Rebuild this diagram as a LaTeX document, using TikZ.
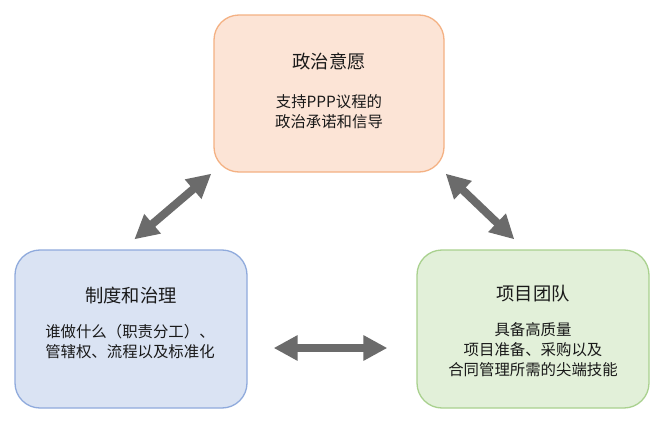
\documentclass[tikz,border=0pt]{standalone}
\usepackage{fontspec}
\setmainfont{Noto Sans CJK SC}
\usetikzlibrary{arrows.meta,calc}
\definecolor{topfill}{HTML}{FCE4D6}
\definecolor{topdraw}{HTML}{F4B183}
\definecolor{leftfill}{HTML}{DAE3F3}
\definecolor{leftdraw}{HTML}{8FAADC}
\definecolor{rightfill}{HTML}{E2F0D9}
\definecolor{rightdraw}{HTML}{A9D18E}
\definecolor{arrgray}{HTML}{6B6B6B}
\begin{document}
\begin{tikzpicture}[x=1pt,y=-1pt,
  boxstyle/.style={draw, line width=1.3pt, rounded corners=25pt, minimum width=230pt, minimum height=157pt, inner sep=0pt},
  titlestyle/.style={font=\fontsize{18.3}{20}\selectfont, inner sep=0pt, text=black!90},
  bodystyle/.style={font=\fontsize{15.4}{20}\selectfont, align=center, inner sep=0pt, text=black!90},
  arr/.style={draw=arrgray, line width=8pt, {Triangle[length=24pt,width=24pt]}-{Triangle[length=24pt,width=24pt]}}
]
\useasboundingbox[fill=white] (0,0) rectangle (665,423);
\node[boxstyle, fill=topfill, draw=topdraw] (top) at (329,93.5) {};
\node[boxstyle, fill=leftfill, draw=leftdraw, minimum width=232pt, minimum height=158pt] (left) at (131,329) {};
\node[boxstyle, fill=rightfill, draw=rightdraw, minimum width=232pt, minimum height=158pt] (right) at (533,329) {};

\node[titlestyle] (toptitle) at (329,62) {政治意愿};
\node[bodystyle] (topbody) at (329,112) {支持PPP议程的\\政治承诺和信导};
\node[titlestyle] (lefttitle) at (131,296) {制度和治理};
\node[bodystyle] (leftbody) at (130,342) {谁做什么（职责分工）、\\管辖权、流程以及标准化};
\node[titlestyle] (righttitle) at (533,294) {项目团队};
\node[bodystyle] (rightbody) at (533,350) {具备高质量\\项目准备、采购以及\\合同管理所需的尖端技能};

\draw[arr] ($(left.north west)+(120,-10)$) -- ($(top.south west)+(-2,1)$);
\draw[arr] ($(top.south east)+(1,1)$) -- ($(right.north west)+(98,-10)$);
\draw[arr] ($(left.east)+(26,19)$) -- ($(right.west)+(-29,19)$);
\end{tikzpicture}
\end{document}
